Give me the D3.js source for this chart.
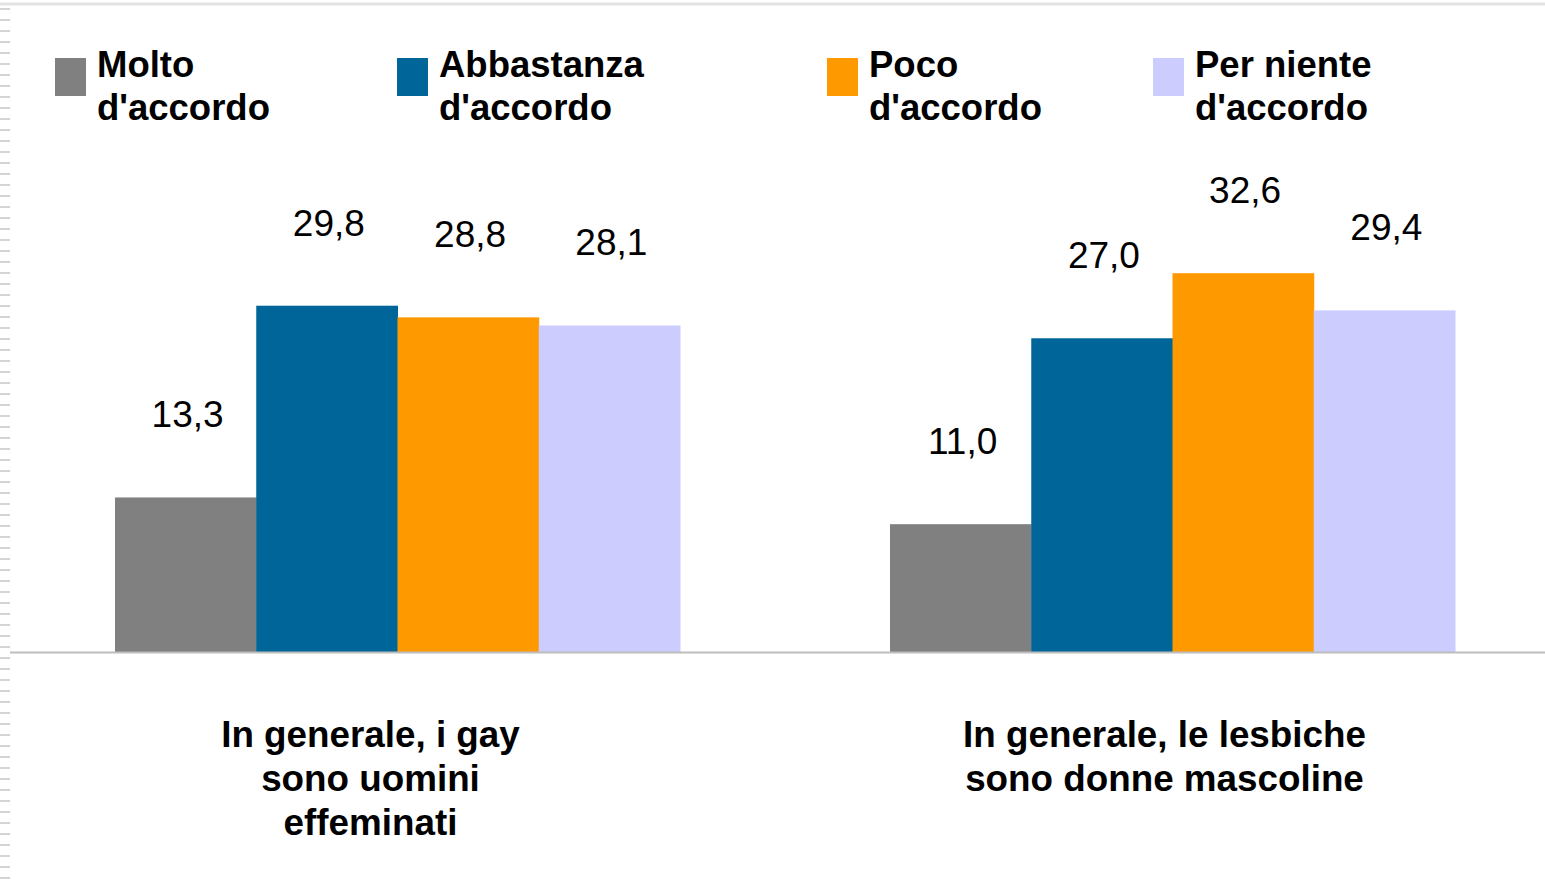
<!DOCTYPE html>
<html>
<head>
<meta charset="utf-8">
<script src="https://cdn.jsdelivr.net/npm/d3@7"></script>
<style>
  html, body { margin: 0; padding: 0; background: #fff; }
  svg { display: block; font-family: "Liberation Sans", Arial, sans-serif; }
</style>
</head>
<body>
<svg id="chart" width="1545" height="886"></svg>
<script>
// ---- data ----
const categories = [
  "In generale, i gay sono uomini effeminati",
  "In generale, le lesbiche sono donne mascoline"
];
const categoryLines = [
  ["In generale, i gay", "sono uomini", "effeminati"],
  ["In generale, le lesbiche", "sono donne mascoline"]
];
const seriesNames = ["Molto d'accordo", "Abbastanza d'accordo", "Poco d'accordo", "Per niente d'accordo"];
const seriesLegendLines = [
  ["Molto", "d'accordo"],
  ["Abbastanza", "d'accordo"],
  ["Poco", "d'accordo"],
  ["Per niente", "d'accordo"]
];
const molto = [13.3, 11.0];
const abbastanza = [29.8, 27.0];
const poco = [28.8, 32.6];
const perNiente = [28.1, 29.4];
const seriesColors = ["#808080", "#006699", "#FF9900", "#CCCCFF"];

// ---- layout ----
const svg = d3.select("#chart");
const W = 1545, H = 886;
const baseY = 652;
const seriesValues = [molto, abbastanza, poco, perNiente];

// frame decorations
svg.append("line").attr("x1", 0).attr("x2", W).attr("y1", 4).attr("y2", 4)
  .attr("stroke", "#e2e2e2").attr("stroke-width", 3);
svg.append("line").attr("x1", 5).attr("x2", 5).attr("y1", 8).attr("y2", H)
  .attr("stroke", "#d4d4d4").attr("stroke-width", 10).attr("stroke-dasharray", "2 9");

const x0 = d3.scaleBand().domain(categories).range([115, 1455]).paddingInner(0.271).paddingOuter(0);
const x1 = d3.scaleBand().domain(seriesNames).range([0, x0.bandwidth()]).padding(0);
const y = d3.scaleLinear().domain([0, 35]).range([baseY, baseY - 35 * 11.62]);

const rows = [];
categories.forEach((c, ci) => {
  seriesNames.forEach((s, si) => {
    rows.push({ cat: c, ser: s, si, v: seriesValues[si][ci] });
  });
});

const g = svg.append("g");
g.selectAll("rect.bar").data(rows).join("rect")
  .attr("class", "bar")
  .attr("x", d => x0(d.cat) + x1(d.ser))
  .attr("y", d => y(d.v))
  .attr("width", x1.bandwidth() + 0.5)
  .attr("height", d => y(0) - y(d.v))
  .attr("fill", d => seriesColors[d.si]);

// baseline
svg.append("line").attr("x1", 10).attr("x2", W).attr("y1", baseY + 0.5).attr("y2", baseY + 0.5)
  .attr("stroke", "#bdbdbd").attr("stroke-width", 2);

// value labels
g.selectAll("text.val").data(rows).join("text")
  .attr("class", "val")
  .attr("x", d => x0(d.cat) + x1(d.ser) + x1.bandwidth() / 2 + 2)
  .attr("y", d => y(d.v) - 70)
  .attr("text-anchor", "middle")
  .attr("font-size", 37)
  .attr("fill", "#000")
  .text(d => d.v.toFixed(1).replace(".", ","));

// category labels
const catShift = [-27, -8];
categories.forEach((c, ci) => {
  const cx = x0(c) + x0.bandwidth() / 2 + catShift[ci];
  const t = svg.append("text")
    .attr("text-anchor", "middle")
    .attr("font-size", 36.8).attr("font-weight", "bold").attr("fill", "#000");
  categoryLines[ci].forEach((line, li) => {
    t.append("tspan").attr("x", cx).attr("y", 747 + li * 44).text(line);
  });
});

// legend
const legendX = [55, 397, 827, 1153];
seriesNames.forEach((s, si) => {
  const lg = svg.append("g").attr("transform", `translate(${legendX[si]},0)`);
  lg.append("rect").attr("x", 0).attr("y", 58).attr("width", 31).attr("height", 38)
    .attr("fill", seriesColors[si]);
  const t = lg.append("text").attr("font-size", 36.5).attr("font-weight", "bold").attr("fill", "#000");
  seriesLegendLines[si].forEach((line, li) => {
    t.append("tspan").attr("x", 42).attr("y", 77 + li * 43).text(line);
  });
});
</script>
</body>
</html>
